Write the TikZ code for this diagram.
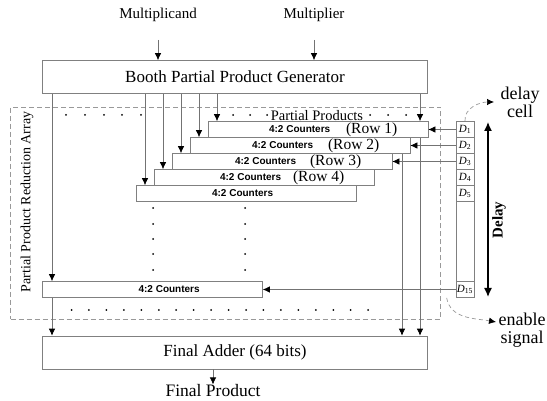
\documentclass[tikz,border=0pt]{standalone}
\usepackage{fontspec}
\setmainfont{Liberation Serif}
\newfontfamily\ctrfont{Liberation Sans}
\usetikzlibrary{positioning,arrows.meta,calc}

\begin{document}
\begin{tikzpicture}[
    x=1pt, y=-1pt,
    line width=0.7pt,
    box/.style={draw=black!50, fill=white, inner sep=0pt},
    bigbox/.style={box, minimum width=385pt, minimum height=33pt, font=\fontsize{17}{20}\selectfont},
    ctr/.style={box, minimum width=220pt, minimum height=16pt},
    cell/.style={box, minimum width=18pt, minimum height=16pt, font=\fontsize{11}{12}\selectfont},
    ctrtext/.style={inner sep=0pt, font=\ctrfont\bfseries\fontsize{10}{12}\selectfont},
    rowtext/.style={inner sep=0pt, font=\fontsize{15.5}{18}\selectfont},
    lbl/.style={inner sep=0pt, font=\fontsize{15}{18}\selectfont},
    side/.style={inner sep=0pt, align=center, font=\fontsize{18}{18}\selectfont},
    arr/.style={draw=black!55, -{Latex[length=7pt,width=6.5pt,color=black]}},
    dasharr/.style={draw=black!40, dash pattern=on 4pt off 3pt, -{Latex[length=7pt,width=6.5pt,color=black]}},
    dot/.style={circle, fill=black, inner sep=0pt, minimum size=2pt}
]
\useasboundingbox (0,0) rectangle (547,401);

% reduction array outline
\node[draw=black!40, dash pattern=on 5pt off 3pt, minimum width=429.5pt, minimum height=212pt] (array) at (225.25,213) {};
\node[lbl, rotate=90, font=\fontsize{14}{16}\selectfont] (arraylabel) at (27,202) {Partial Product Reduction Array};

% inputs and generator
\node[lbl] (mcand) at (158,15) {Multiplicand};
\node[lbl] (mplier) at (314,15) {Multiplier};
\coordinate (mcandin) at (158,40);
\coordinate (mplierin) at (314,40);
\node[bigbox] (gen) at (235,77) {Booth Partial Product Generator};
\draw[arr] (mcandin) -- (mcandin |- gen.north);
\draw[arr] (mplierin) -- (mplierin |- gen.north);

% counter rows
\node[ctr] (row5) at (246,193.5) {};
\node[ctr] (row4) at (264,177.5) {};
\node[ctr] (row3) at (282,161.5) {};
\node[ctr] (row2) at (300,145.5) {};
\node[ctr] (row1) at (318,129.5) {};
\node[ctr] (rowN) at (152.5,289.5) {};
\node[ctrtext] (ctr1) at ($(row1.west)+(92,0)$) {4:2 Counters};
\node[rowtext] (lab1) at ($(row1.west)+(164,0)$) {(Row 1)};
\node[ctrtext] (ctr2) at ($(row2.west)+(93,0)$) {4:2 Counters};
\node[rowtext] (lab2) at ($(row2.west)+(164,0)$) {(Row 2)};
\node[ctrtext] (ctr3) at ($(row3.west)+(94,0)$) {4:2 Counters};
\node[rowtext] (lab3) at ($(row3.west)+(164,0)$) {(Row 3)};
\node[ctrtext] (ctr4) at ($(row4.west)+(97,0)$) {4:2 Counters};
\node[rowtext] (lab4) at ($(row4.west)+(165,0)$) {(Row 4)};
\node[ctrtext] (ctr5) at ($(row5.west)+(107,0)$) {4:2 Counters};
\node[ctrtext] (ctrN) at ($(rowN.west)+(127,0)$) {4:2 Counters};

% partial product lines
\coordinate (ppL) at (52,0);
\coordinate (pp5) at (145,0);
\coordinate (pp4) at (163,0);
\coordinate (pp3) at (181,0);
\coordinate (pp2) at (199,0);
\coordinate (pp1) at (217,0);
\coordinate (ppA) at (402,0);
\coordinate (ppB) at (420,0);
\draw[arr] (gen.south -| ppL) -- (rowN.north -| ppL);
\draw[arr] (gen.south -| pp5) -- (row5.north -| pp5);
\draw[arr] (gen.south -| pp4) -- (row4.north -| pp4);
\draw[arr] (gen.south -| pp3) -- (row3.north -| pp3);
\draw[arr] (gen.south -| pp2) -- (row2.north -| pp2);
\draw[arr] (gen.south -| pp1) -- (row1.north -| pp1);
\draw[arr] (gen.south -| ppB) -- (row1.north -| ppB);

% partial products label
\node[lbl, font=\fontsize{14.5}{16}\selectfont] (pplabel) at (317,116) {Partial Products};
\foreach \x in {66,85,104,122,141,233,250,267,370,388,406}
    \node[dot] at (\x,115) {};

% final adder
\node[bigbox] (adder) at (235,352.5) {Final Adder (64 bits)};
\node[lbl, font=\fontsize{17.5}{20}\selectfont] (product) at (213,391) {Final Product};
\draw[arr] (rowN.south -| ppL) -- (adder.north -| ppL);
\draw[arr] (row2.south -| ppA) -- (adder.north -| ppA);
\draw[arr] (row1.south -| ppB) -- (adder.north -| ppB);
\draw[arr] (adder.south -| product) -- (product.north);

% dots inside the array
\foreach \y in {208,224,239,254,270} {
    \node[dot] at (153,\y) {};
    \node[dot] at (245,\y) {};
    \node[dot] at (465,\y) {};
}
\foreach \i in {0,...,17}
    \node[dot] at (71.5+17.45*\i,310) {};

% delay cells
\node[cell] (d1) at (465,129.5) {\itshape D\textsubscript{\upshape 1}};
\node[cell] (d2) at (465,145.5) {\itshape D\textsubscript{\upshape 2}};
\node[cell] (d3) at (465,161.5) {\itshape D\textsubscript{\upshape 3}};
\node[cell] (d4) at (465,177.5) {\itshape D\textsubscript{\upshape 4}};
\node[cell] (d5) at (465,193.5) {\itshape D\textsubscript{\upshape 5}};
\node[box, minimum width=18pt, minimum height=80pt] (dmid) at (465,241.5) {};
\node[cell] (d15) at (465,289.5) {\itshape D\textsubscript{\upshape 15}};
\draw[arr] (d1) -- (row1);
\draw[arr] (d2) -- (row2);
\draw[arr] (d3) -- (row3);
\draw[arr] (d15) -- (rowN);

% delay arrow and side notes
\coordinate (dtop) at (488,122);
\coordinate (dbot) at (488,297);
\draw[{Latex[length=9pt,width=8pt]}-{Latex[length=9pt,width=8pt]}, line width=1.4pt] (dtop) -- (dbot);
\node[inner sep=0pt, rotate=90, font=\bfseries\fontsize{15}{16}\selectfont] (delay) at (499,220) {Delay};
\node[side] (cell) at (520,102) {delay\\cell};
\node[side] (enable) at (522,330) {enable\\signal};
\coordinate (cellin) at (494,102);
\coordinate (enin) at (496,322);
\draw[dasharr] (d1.north) to[out=95, in=180] (cellin);
\draw[dasharr] (d15.south west) ++(-9,0) to[out=-80, in=170] (enin);
\end{tikzpicture}
\end{document}
